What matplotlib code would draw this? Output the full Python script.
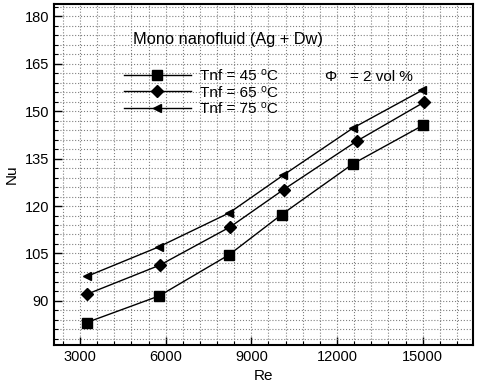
import matplotlib
matplotlib.use("Agg")
import matplotlib.pyplot as plt
from matplotlib.ticker import MultipleLocator

plt.rcParams['font.family'] = ['Liberation Sans', 'DejaVu Sans']

# dati
re_45 = [3235, 5770, 8220, 10060, 12570, 15010]
nu_45 = [83.2, 91.6, 104.6, 117.3, 133.4, 145.5]
re_65 = [3260, 5790, 8260, 10130, 12690, 15050]
nu_65 = [92.2, 101.3, 113.4, 125.2, 140.5, 152.8]
re_75 = [3250, 5760, 8220, 10110, 12570, 14990]
nu_75 = [97.8, 107.1, 117.8, 129.7, 144.7, 156.6]
labels = ["Tnf = 45 \u2070C", "Tnf = 65 \u2070C", "Tnf = 75 \u2070C"]

fig = plt.figure(figsize=(4.8, 3.87), dpi=100)
ax = fig.add_axes([54/480, 1 - 345/387, (473 - 54)/480, (345 - 4)/387])

ax.plot(re_45, nu_45, color='black', lw=1, marker='s', ms=7, label=labels[0])
ax.plot(re_65, nu_65, color='black', lw=1, marker='D', ms=6, label=labels[1])
ax.plot(re_75, nu_75, color='black', lw=1, marker='<', ms=6, label=labels[2])

ax.set_xlim(2090, 16760)
ax.set_ylim(76.1, 183.8)
ax.xaxis.set_major_locator(MultipleLocator(3000))
ax.xaxis.set_minor_locator(MultipleLocator(600))
ax.yaxis.set_major_locator(MultipleLocator(15))
ax.yaxis.set_minor_locator(MultipleLocator(3))
ax.grid(which='both', color='gray', linestyle=':', linewidth=0.8)
ax.set_axisbelow(True)
ax.tick_params(which='both', direction='in', labelsize=10.5, color='black')
ax.tick_params(which='major', length=6, width=1)
ax.tick_params(which='minor', length=3, width=0.8)
for s in ax.spines.values():
    s.set_linewidth(1.5)

ax.set_xlabel('Re', fontsize=11)
ax.set_ylabel('Nu', fontsize=11)

ax.text(0.188, 0.895, 'Mono nanofluid (Ag + Dw)', transform=ax.transAxes,
        fontsize=11.8, va='center')
ax.text(0.647, 0.787, '\u03a6   = 2 vol %', transform=ax.transAxes,
        fontsize=11, va='center')

ax.legend(loc='upper left', bbox_to_anchor=(0.148, 0.831), frameon=False,
          handlelength=4.4, handletextpad=0.6, labelspacing=0.15,
          fontsize=11, borderpad=0)

fig.savefig('out.png', dpi=100)
